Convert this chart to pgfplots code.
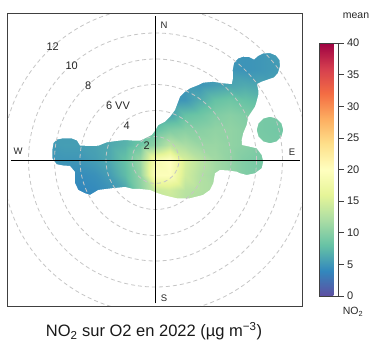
\documentclass[border=0pt]{standalone}
\usepackage{fontspec}
\setmainfont{Liberation Sans}
\usepackage{pgfplots}
\pgfplotsset{compat=1.18}
\pgfplotsset{colormap={spectralr}{rgb255(0cm)=(94,79,162) rgb255(1cm)=(50,136,189) rgb255(2cm)=(102,194,165) rgb255(3cm)=(171,221,164) rgb255(4cm)=(230,245,152) rgb255(5cm)=(255,255,191) rgb255(6cm)=(254,224,139) rgb255(7cm)=(253,174,97) rgb255(8cm)=(244,109,67) rgb255(9cm)=(213,62,79) rgb255(10cm)=(158,1,66)}}
\begin{document}
\begin{tikzpicture}
\begin{axis}[at={(7.3pt,33.3pt)}, anchor=south west, scale only axis,
  width=295.4pt, height=293.4pt,
  xmin=-148.2, xmax=147.2, ymin=-146.7, ymax=146.7,
  xtick=\empty, ytick=\empty, axis on top,
  axis line style={draw=black!75, line width=0.8pt},
  colormap name=spectralr, point meta min=0, point meta max=40,
  colorbar,
  colorbar style={at={(parent axis.south east)}, anchor=south west, xshift=8pt, yshift=10.7pt,
    scale only axis, width=19.3pt, height=253pt,
    ytick={0,5,...,40}, ytick pos=right, yticklabel pos=right,
    tick align=outside, major tick length=5pt,
    tick style={draw=black!75, line width=0.6pt},
    axis line style={draw=black!75, line width=0.6pt},
    yticklabel style={font=\fontsize{11}{13}\selectfont, /pgf/number format/assume math mode=true, text=black!85}},
]
\addplot[surf, shader=interp, mesh/cols=17, point meta=\thisrow{c}, forget plot] table {
x y c
-105 -45 4
-90 -45 4
-75 -45 4
-60 -45 4
-45 -45 4.5
-30 -45 6
-15 -45 10
0 -45 13
15 -45 13.5
30 -45 12.5
45 -45 12
60 -45 11.5
75 -45 11
90 -45 10
105 -45 9.5
120 -45 9
135 -45 9
-105 -30 4.3
-90 -30 4.2
-75 -30 4
-60 -30 4.2
-45 -30 4.8
-30 -30 6
-15 -30 10
0 -30 14
15 -30 14.5
30 -30 13
45 -30 12.5
60 -30 12
75 -30 11
90 -30 10
105 -30 9.5
120 -30 9
135 -30 9
-105 -15 4.6
-90 -15 4.5
-75 -15 4.3
-60 -15 4.6
-45 -15 5.5
-30 -15 7.5
-15 -15 10.5
0 -15 19.5
15 -15 19.5
30 -15 14.5
45 -15 12.5
60 -15 11.5
75 -15 10.5
90 -15 9.5
105 -15 9
120 -15 9
135 -15 9
-105 0 5
-90 0 5
-75 0 5
-60 0 5.5
-45 0 6.3
-30 0 8
-15 0 11
0 0 18.5
15 0 20
30 0 15
45 0 13
60 0 11.5
75 0 10.5
90 0 9.5
105 0 9
120 0 9
135 0 9
-105 15 5.3
-90 15 5.5
-75 15 5.5
-60 15 5.8
-45 15 6.3
-30 15 7
-15 15 8.5
0 15 10.5
15 15 13
30 15 12
45 15 11
60 15 11
75 15 10.5
90 15 10
105 15 9.3
120 15 9
135 15 9
-105 30 5.3
-90 30 5.3
-75 30 5.3
-60 30 5.5
-45 30 6
-30 30 6.5
-15 30 7
0 30 8
15 30 9.5
30 30 10
45 30 10
60 30 10.5
75 30 10.5
90 30 10
105 30 9
120 30 8.8
135 30 8.8
-105 45 5
-90 45 5
-75 45 5
-60 45 5
-45 45 5
-30 45 5
-15 45 5.5
0 45 5.5
15 45 6
30 45 8
45 45 8.5
60 45 9.5
75 45 10
90 45 9.5
105 45 9
120 45 9
135 45 9
-105 60 5
-90 60 5
-75 60 5
-60 60 5
-45 60 5
-30 60 5
-15 60 5
0 60 5
15 60 4.8
30 60 5
45 60 6.5
60 60 8
75 60 8.5
90 60 8
105 60 7.5
120 60 7
135 60 7
-105 75 5
-90 75 5
-75 75 5
-60 75 5
-45 75 5
-30 75 5
-15 75 5
0 75 5
15 75 5
30 75 5
45 75 5
60 75 5.5
75 75 6
90 75 6.3
105 75 6
120 75 5.8
135 75 5.8
-105 90 5
-90 90 5
-75 90 5
-60 90 5
-45 90 5
-30 90 5
-15 90 5
0 90 5
15 90 5
30 90 5
45 90 5
60 90 5
75 90 5
90 90 4.8
105 90 5
120 90 5.3
135 90 5.5
-105 110 5
-90 110 5
-75 110 5
-60 110 5
-45 110 5
-30 110 5
-15 110 5
0 110 5
15 110 5
30 110 5
45 110 5
60 110 5
75 110 5
90 110 4.8
105 110 5
120 110 5.3
135 110 5.5
};
\addplot[fill=white, draw=none, even odd rule, unbounded coords=jump, forget plot] coordinates {
(-150,-150) (150,-150) (150,150) (-150,150) (-150,-150)
(nan,nan)
(-103.2,10) (-102,17) (-98.5,20.5) (-92.5,21.7) (-83.5,21.5) (-78.5,19.5) (-75.5,14.5) (-65.5,14)
(-57.2,14.3) (-48.8,17.7) (-39.5,19) (-30.5,20) (-20.5,19.3) (-15.5,19.3) (-10.5,21.7) (-3.8,25)
(-0.5,29.3) (2.8,35) (9.5,38.3) (14.5,43.3) (19.5,50) (22.5,58) (24.5,63.3) (29.5,68.3)
(34.5,71.7) (42.8,75) (47.5,77.3) (57.5,78.3) (67.5,76.7) (76.2,76) (77.5,82) (77.2,90)
(78.5,97) (82.5,101.5) (87.5,103.3) (93.5,103) (98.5,100.5) (102.5,104) (107.5,106.5) (114.5,107)
(120.5,104.5) (124,100) (124.5,94) (122.5,87) (118.5,82.5) (112.5,80.5) (106.2,78.3) (101.5,76)
(102.8,70) (102.8,65) (101,58) (99.5,53.3) (96.2,48.3) (92.8,43.3) (91.2,35) (87.8,27)
(86.2,20) (86.5,15) (94.5,13.3) (101.2,11.7) (106.2,5) (107.8,-1.7) (106.2,-8.3) (99.5,-13.3)
(91.2,-15) (84.5,-13.3) (81.2,-11.7) (72.5,-10.5) (64.5,-10) (59.5,-13.3) (57.8,-23.3) (54.5,-30)
(47.5,-35) (34.5,-38.3) (21.2,-38.3) (14.5,-36.7) (7.5,-35) (1.5,-33) (-5.5,-30) (-15.5,-29)
(-22.5,-29) (-30.5,-27) (-43.8,-28.3) (-57.2,-30) (-65.5,-35) (-70.5,-33.3) (-77.2,-30) (-80.5,-23)
(-80.5,-12) (-85.5,-6) (-92.5,-5.5) (-98.8,-4.3) (-103.2,1.7) (-103.2,10)
(nan,nan)
(127.8,30) (126,36.65) (121.15,41.5) (114.5,43.3) (107.85,41.5) (103,36.65) (101.2,30) (103,23.35)
(107.85,18.5) (114.5,16.7) (121.15,18.5) (126,23.35) (127.8,30)
};
\draw[gray!45, line width=0.8pt, dash pattern=on 4pt off 3pt] (axis cs:0,0) circle [radius=23.5];
\draw[gray!45, line width=0.8pt, dash pattern=on 4pt off 3pt] (axis cs:0,0) circle [radius=49.5];
\draw[gray!45, line width=0.8pt, dash pattern=on 4pt off 3pt] (axis cs:0,0) circle [radius=75.5];
\draw[gray!45, line width=0.8pt, dash pattern=on 4pt off 3pt] (axis cs:0,0) circle [radius=101];
\draw[gray!45, line width=0.8pt, dash pattern=on 4pt off 3pt] (axis cs:0,0) circle [radius=127];
\draw[gray!45, line width=0.8pt, dash pattern=on 4pt off 3pt] (axis cs:0,0) circle [radius=153];
\draw[black, line width=0.8pt] (axis cs:-144.5,0) -- (axis cs:144.5,0);
\draw[black, line width=0.8pt] (axis cs:0,-143.5) -- (axis cs:0,143.5);
\node[font=\fontsize{9.5}{11}\selectfont, text=black!85] at (axis cs:8.5,135) {N};
\node[font=\fontsize{9.5}{11}\selectfont, text=black!85] at (axis cs:8.5,-138) {S};
\node[font=\fontsize{9.5}{11}\selectfont, text=black!85] at (axis cs:-137.5,9) {W};
\node[font=\fontsize{9.5}{11}\selectfont, text=black!85] at (axis cs:136.5,8) {E};
\node[font=\fontsize{11}{13}\selectfont, text=black!85] at (axis cs:-8.8,14.3) {2};
\node[font=\fontsize{11}{13}\selectfont, text=black!85] at (axis cs:-28.8,34) {4};
\node[font=\fontsize{11}{13}\selectfont, text=black!85] at (axis cs:-37.5,54) {6 VV};
\node[font=\fontsize{11}{13}\selectfont, text=black!85] at (axis cs:-67.2,74) {8};
\node[font=\fontsize{11}{13}\selectfont, text=black!85] at (axis cs:-83.8,94) {10};
\node[font=\fontsize{11}{13}\selectfont, text=black!85] at (axis cs:-102.8,113.3) {12};
\end{axis}
\node[anchor=base west, font=\fontsize{10.5}{12}\selectfont, text=black!85, inner sep=0pt] at (342.7pt,321.7pt) {mean};
\node[anchor=base west, font=\fontsize{10.5}{12}\selectfont, text=black!85, inner sep=0pt] at (342.7pt,25pt) {NO\textsubscript{2}};
\node[anchor=base, font=\fontsize{16.5}{18}\selectfont, text=black!90, inner sep=0pt] at (154pt,3.5pt) {NO\textsubscript{2} sur O2 en 2022 (µg m\textsuperscript{−3})};
\path (0,0) rectangle (376pt,340pt);
\end{tikzpicture}
\end{document}
